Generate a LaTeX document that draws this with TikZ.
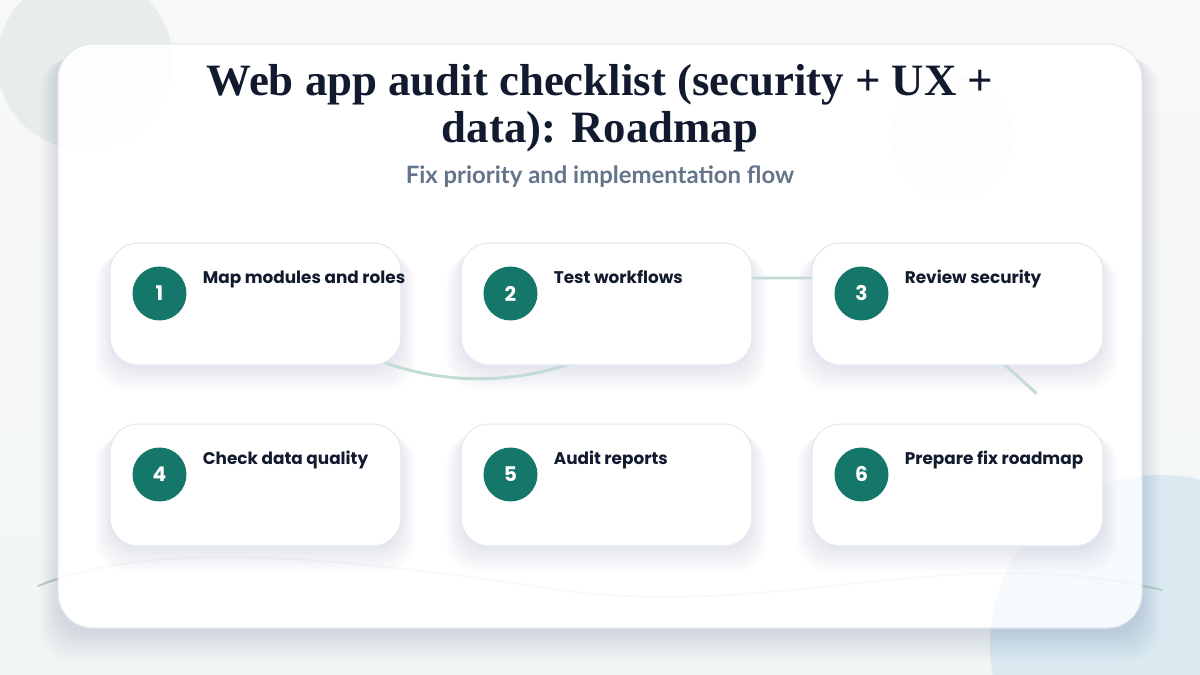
\documentclass[tikz,border=0pt]{standalone}
\usepackage{fontspec}
\setmainfont{Liberation Serif}
\newfontfamily\uifont{Lato}
\newfontfamily\stepfont{Poppins}
\usepackage{tikz}
\usetikzlibrary{positioning}

\definecolor{ink}{HTML}{111A2E}
\definecolor{slate}{HTML}{64748B}
\definecolor{badgeteal}{HTML}{14776A}
\definecolor{linkline}{HTML}{C2DBD4}
\definecolor{waveline}{HTML}{B7D1CA}
\definecolor{cardrim}{HTML}{E2E8F1}
\definecolor{pagebg}{HTML}{F8F9F7}
\definecolor{pagelow}{HTML}{F1F6F4}
\definecolor{blobmint}{HTML}{E7EEEA}
\definecolor{blobsky}{HTML}{DAEAF0}
\definecolor{blobpale}{HTML}{E2EDED}

\pgfdeclarelayer{back}
\pgfsetlayers{back,main}

\begin{document}
\begin{tikzpicture}[
    x=0.02cm, y=-0.02cm,
    node distance=1.16cm and 1.18cm,
    card/.style={rectangle, rounded corners=0.56cm, draw=cardrim, line width=0.6pt,
                 fill=white, minimum width=5.82cm, minimum height=2.44cm},
    badge/.style={circle, fill=badgeteal, text=white, minimum size=1.08cm, inner sep=0pt,
                  font=\stepfont\bfseries\fontsize{11.5}{13}\selectfont},
    steptext/.style={anchor=base west, inner sep=0pt, text=ink,
                     font=\stepfont\bfseries\fontsize{9.6}{12}\selectfont},
    title/.style={anchor=north, align=center, inner sep=0pt, text=ink,
                  font=\bfseries\fontsize{25.5}{26.6}\selectfont},
    subtitle/.style={inner sep=0pt, text=slate, font=\uifont\bfseries\fontsize{13.6}{15}\selectfont},
    panel/.style={fill=white, draw=cardrim, line width=0.6pt, rounded corners=0.7cm},
    softshade/.style={fill=black!55!blue, opacity=0.011, rounded corners=0.6cm},
    link/.style={draw=linkline, line width=1.7pt, line cap=round},
    wave/.style={draw=waveline, line width=1.1pt, line cap=round}
]
\useasboundingbox (0,0) rectangle (1200,675);

% steps
\node[card] (c1) at (255.5,304) {};
\node[card, right=of c1] (c2) {};
\node[card, right=of c2] (c3) {};
\node[card, below=of c1] (c4) {};
\node[card, right=of c4] (c5) {};
\node[card, right=of c5] (c6) {};

\node[badge] (n1) at ([shift={(50,51)}]c1.north west) {1};
\node[badge] (n2) at ([shift={(50,51)}]c2.north west) {2};
\node[badge] (n3) at ([shift={(50,51)}]c3.north west) {3};
\node[badge] (n4) at ([shift={(50,51)}]c4.north west) {4};
\node[badge] (n5) at ([shift={(50,51)}]c5.north west) {5};
\node[badge] (n6) at ([shift={(50,51)}]c6.north west) {6};

\node[steptext] (t1) at ([shift={(93,41)}]c1.north west) {Map modules and roles};
\node[steptext] (t2) at ([shift={(93,41)}]c2.north west) {Test workflows};
\node[steptext] (t3) at ([shift={(93,41)}]c3.north west) {Review security};
\node[steptext] (t4) at ([shift={(93,41)}]c4.north west) {Check data quality};
\node[steptext] (t5) at ([shift={(93,41)}]c5.north west) {Audit reports};
\node[steptext] (t6) at ([shift={(93,41)}]c6.north west) {Prepare fix roadmap};

% heading
\node[title] (head) at (600,64) {Web app audit checklist (security + UX +\\data): Roadmap};
\node[subtitle] (sub) at (600,177) {Fix priority and implementation flow};

\begin{pgfonlayer}{back}
% backdrop
\shade[top color=pagebg, bottom color=pagelow] (0,0) rectangle (1200,675);
\begin{scope}
\clip (0,0) rectangle (1200,675);
\fill[blobmint] (85,62) circle[radius=88];
\fill[blobsky] (1160,645) circle[radius=170];
\end{scope}
\coordinate (w1) at (38,586);
\coordinate (w2) at (1162,590);
\draw[wave] (w1) .. controls (150,540) and (330,555) .. (560,590)
            .. controls (780,620) and (950,540) .. (w2);

% board
\coordinate (bnw) at (58,44);
\coordinate (bse) at (1142,628);
\foreach \k in {0,...,9}
  \fill[softshade] ([shift={(-2*\k,6+\k)}]bnw) rectangle ([shift={(2*\k,6+3*\k)}]bse);
\path[panel] (bnw) rectangle (bse);
\begin{scope}
\clip[rounded corners=0.7cm] (bnw) rectangle (bse);
\fill[blobmint, opacity=0.1] (85,62) circle[radius=88];
\fill[blobsky, opacity=0.2] (1160,645) circle[radius=170];
\fill[blobpale, opacity=0.06] (952,137) circle[radius=62];
\draw[wave, opacity=0.1] (w1) .. controls (150,540) and (330,555) .. (560,590)
            .. controls (780,620) and (950,540) .. (w2);
\end{scope}

\foreach \c in {c1,c2,c3,c4,c5,c6}
  \foreach \k in {0,...,7}
    \fill[softshade] ([shift={(-2*\k,4+\k)}]\c.north west) rectangle ([shift={(2*\k,4+3*\k)}]\c.south east);

% flow line behind the cards
\coordinate (p1) at (330,335);
\coordinate (p2) at (620,340);
\coordinate (p3) at (720,278);
\coordinate (p4) at (900,278);
\coordinate (p5) at (960,324);
\coordinate (p6) at (1036,393);
\draw[link] (p1) .. controls (420,395) and (540,390) .. (p2)
            .. controls (650,300) and (680,278) .. (p3) -- (p4)
            .. controls (930,278) and (945,310) .. (p5) -- (p6);
\end{pgfonlayer}
\end{tikzpicture}
\end{document}
